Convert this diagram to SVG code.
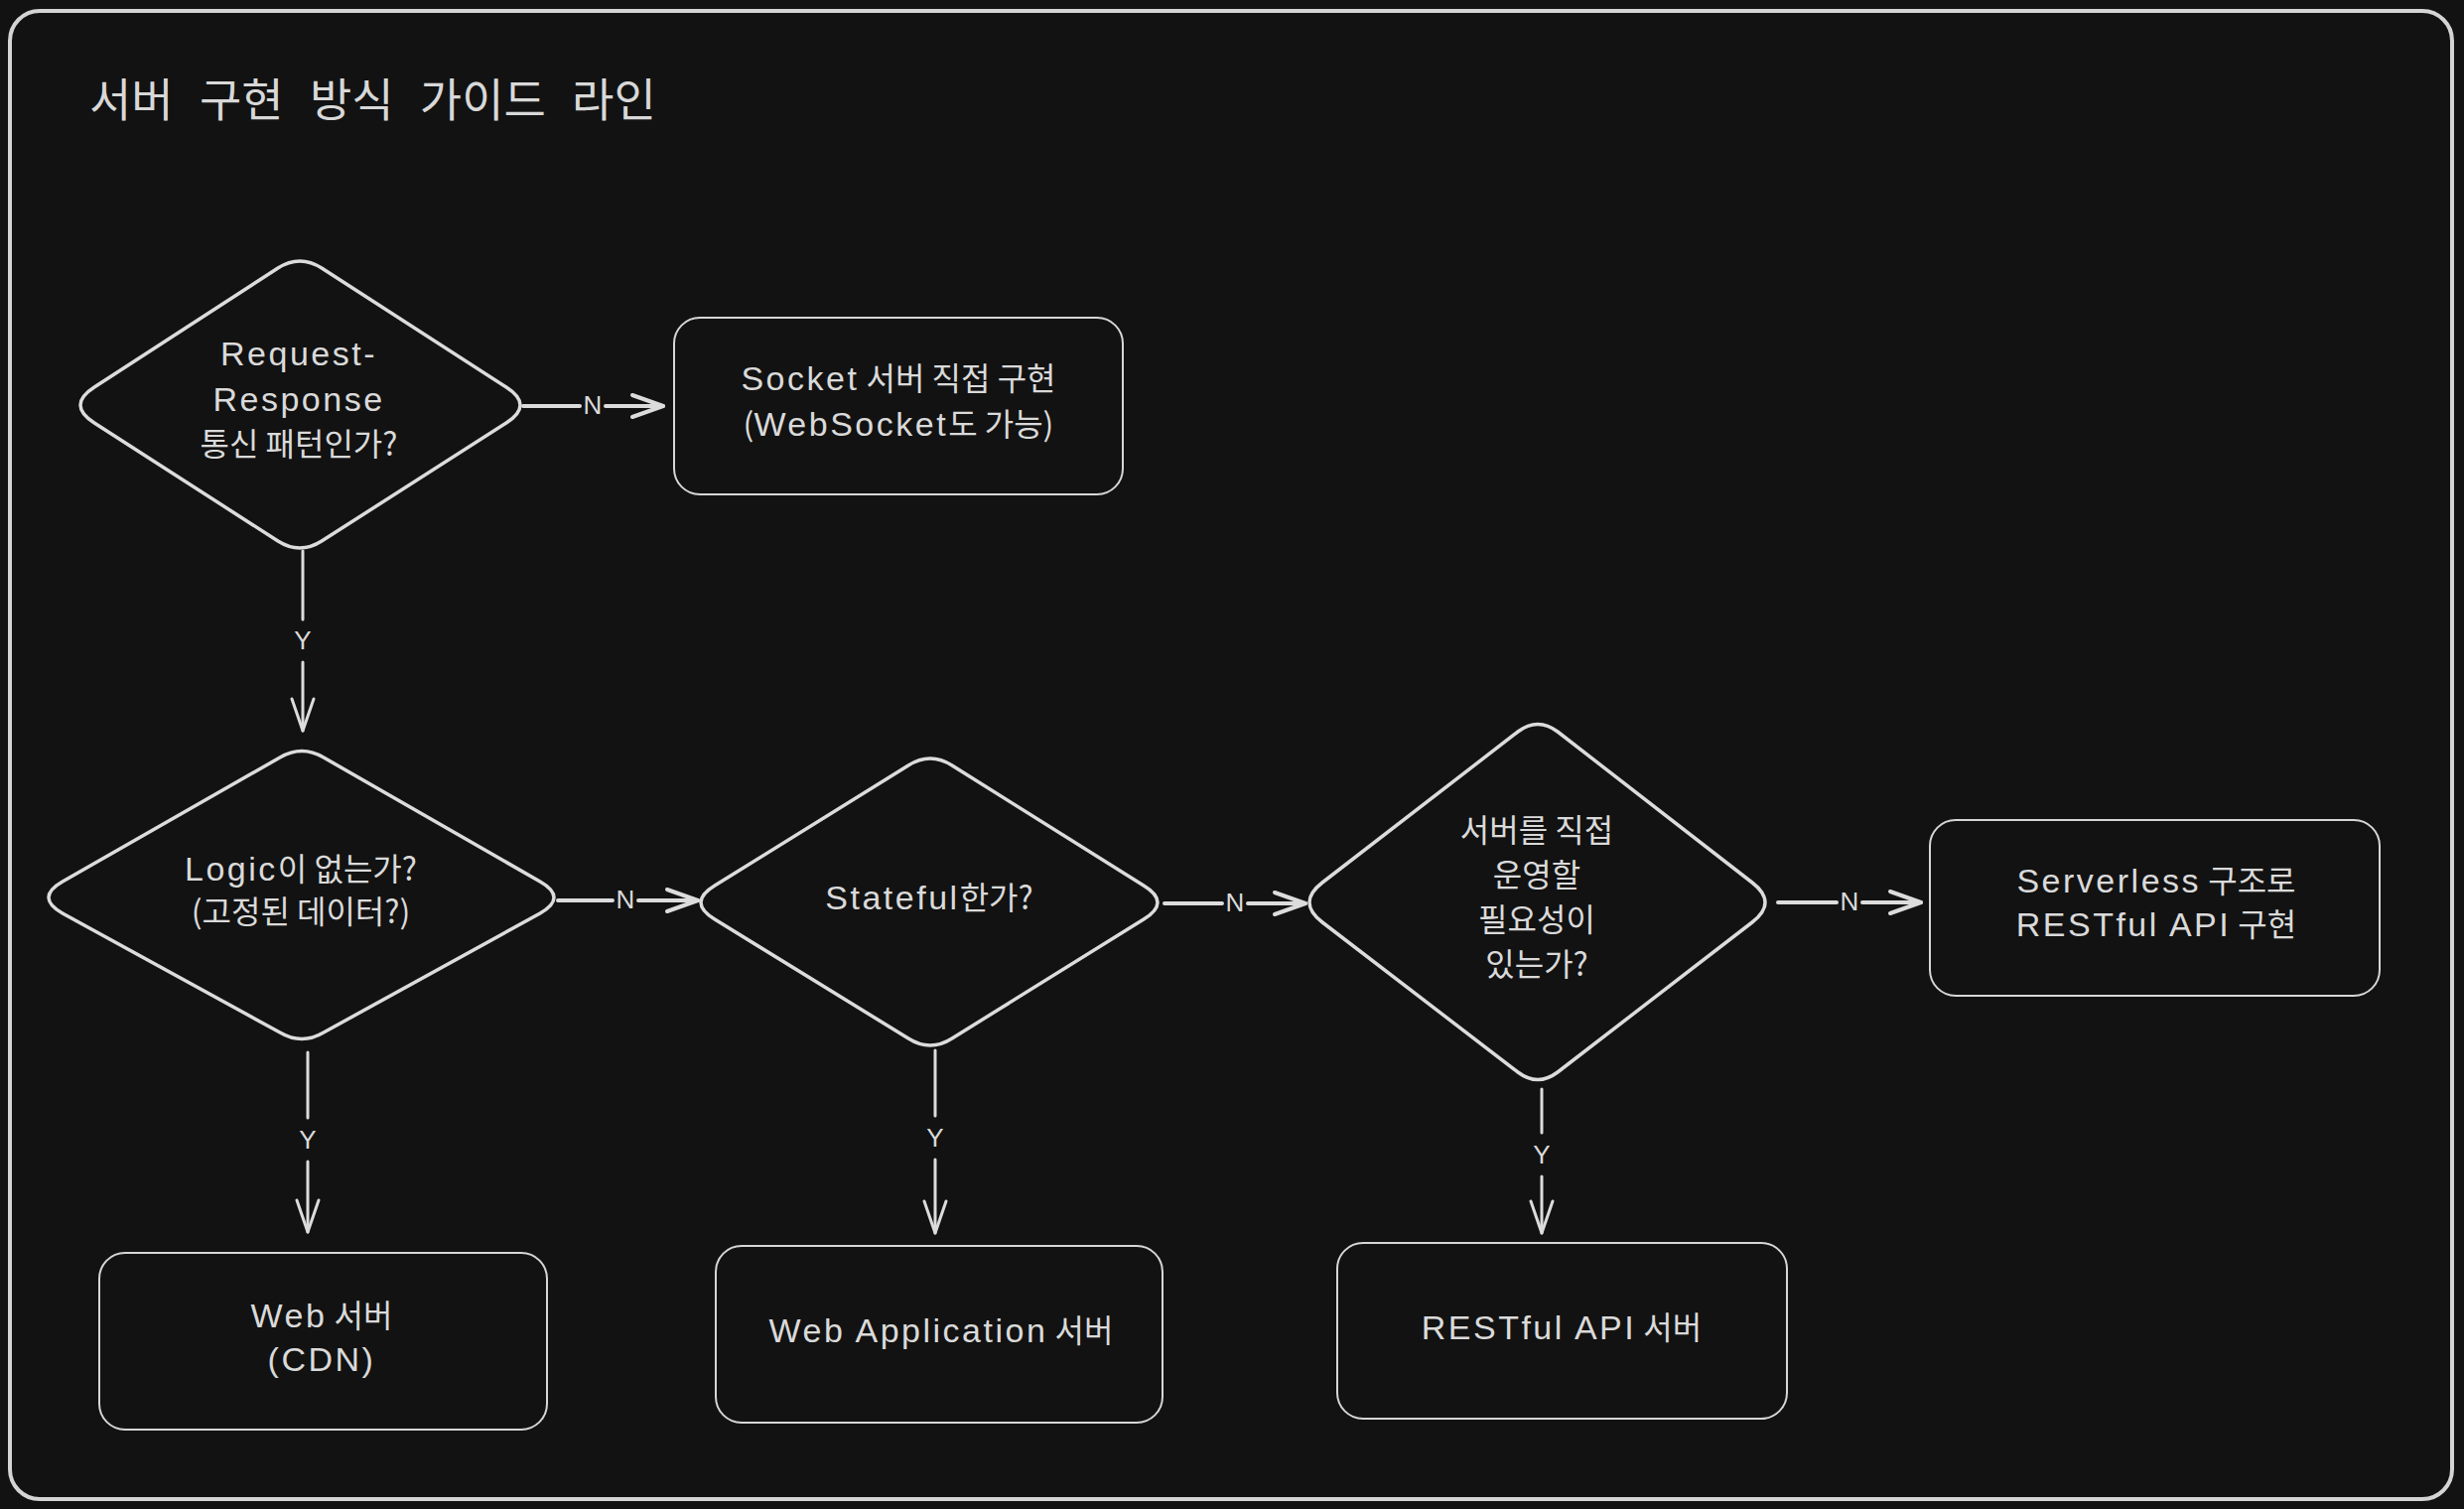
<svg xmlns="http://www.w3.org/2000/svg" width="2482" height="1520" viewBox="0 0 2482 1520">
<defs>
<style>
.bg{fill:#121212}
.frame{fill:none;stroke:#d4d4d4;stroke-width:4}
.box{fill:#121212;stroke:#d6d6d6;stroke-width:2}
.dia{fill:#121212;stroke:#dcdcdc;stroke-width:3.5;stroke-linejoin:round}
.t{font-family:"Noto Sans CJK KR","Noto Sans",sans-serif;font-size:32px;fill:#dadada;text-anchor:middle}
.l{font-family:"Liberation Sans","Noto Sans CJK KR",sans-serif;font-size:34px;letter-spacing:2.5px}
.title{font-family:"Noto Sans CJK KR",sans-serif;font-size:46px;fill:#d8d8d8;word-spacing:16px}
.c{fill:none;stroke:#dcdcdc;stroke-linecap:round}
.h{stroke-width:4}
.v{stroke-width:3}
.lbl{font-family:"Liberation Sans",sans-serif;font-size:26px;fill:#dadada;text-anchor:middle;dominant-baseline:central}
</style>
<marker id="ahH" viewBox="-36 -16 40 32" markerWidth="40" markerHeight="32" refX="0" refY="0" markerUnits="userSpaceOnUse" orient="auto">
<path d="M-31 -11 L0 0 L-31 11" fill="none" stroke="#dcdcdc" stroke-width="4" stroke-linecap="round" stroke-linejoin="round"/>
</marker>
<marker id="ahV" viewBox="-36 -16 40 32" markerWidth="40" markerHeight="32" refX="0" refY="0" markerUnits="userSpaceOnUse" orient="auto">
<path d="M-32 -11 L0 0 L-32 11" fill="none" stroke="#dcdcdc" stroke-width="3" stroke-linecap="round" stroke-linejoin="round"/>
</marker>
</defs>
<rect class="bg" x="0" y="0" width="2482" height="1520"/>
<rect class="frame" x="10" y="11" width="2460" height="1499" rx="30"/>
<text class="title" x="90" y="117">서버 구현 방식 가이드 라인</text>

<g id="connectors">
<g id="a1"><path class="c h" d="M527 409 H584 M610 409 H668" marker-end="url(#ahH)"/><text class="lbl" x="597" y="408">N</text></g>
<g id="a2"><path class="c v" d="M305 555 V624 M305 667 V736" marker-end="url(#ahV)"/><text class="lbl" x="305" y="645">Y</text></g>
<g id="a3"><path class="c h" d="M562 907 H617 M643 907 H703" marker-end="url(#ahH)"/><text class="lbl" x="630" y="906">N</text></g>
<g id="a4"><path class="c v" d="M310 1060 V1126 M310 1170 V1241" marker-end="url(#ahV)"/><text class="lbl" x="310" y="1148">Y</text></g>
<g id="a5"><path class="c h" d="M1173 910 H1231 M1257 910 H1315" marker-end="url(#ahH)"/><text class="lbl" x="1244" y="909">N</text></g>
<g id="a6"><path class="c v" d="M942 1058 V1124 M942 1168 V1242" marker-end="url(#ahV)"/><text class="lbl" x="942" y="1146">Y</text></g>
<g id="a7"><path class="c h" d="M1791 909 H1850 M1876 909 H1935" marker-end="url(#ahH)"/><text class="lbl" x="1863" y="908">N</text></g>
<g id="a8"><path class="c v" d="M1553 1097 V1141 M1553 1185 V1242" marker-end="url(#ahV)"/><text class="lbl" x="1553" y="1163">Y</text></g>
</g>

<g id="d1">
<path class="dia" d="M95 390 L280 270 Q302 256 324 270 L510 390 Q538 408 510 426 L324 545 Q302 559 280 545 L95 426 Q67 408 95 390 Z"/>
<text class="t"><tspan x="301" y="368" class="l">Request-</tspan><tspan x="301" y="414" class="l">Response</tspan><tspan x="301" y="459">통신 패턴인가?</tspan></text>
</g>
<g id="socket">
<rect class="box" x="679" y="320" width="452" height="178" rx="26"/>
<text class="t"><tspan x="905" y="393"><tspan class="l">Socket</tspan> 서버 직접 구현</tspan><tspan x="905" y="439">(<tspan class="l">WebSocket</tspan>도 가능)</tspan></text>
</g>
<g id="d2">
<path class="dia" d="M63 888 L282 763 Q304 750 326 763 L544 888 Q572 904 544 920 L326 1040 Q304 1053 282 1040 L63 920 Q35 904 63 888 Z"/>
<text class="t"><tspan x="303" y="887"><tspan class="l">Logic</tspan>이 없는가?</tspan><tspan x="303" y="930">(고정된 데이터?)</tspan></text>
</g>
<g id="d3">
<path class="dia" d="M720 892 L915 771 Q937 757 959 771 L1152 892 Q1180 909 1152 926 L959 1046 Q937 1060 915 1046 L720 926 Q692 909 720 892 Z"/>
<text class="t" x="936" y="916"><tspan class="l">Stateful</tspan>한가?</text>
</g>
<g id="d4">
<path class="dia" d="M1332 889 L1529 737 Q1549 722 1569 737 L1765 889 Q1791 909 1765 929 L1569 1080 Q1549 1095 1529 1080 L1332 929 Q1306 909 1332 889 Z"/>
<text class="t"><tspan x="1548" y="848">서버를 직접</tspan><tspan x="1548" y="893">운영할</tspan><tspan x="1548" y="938">필요성이</tspan><tspan x="1548" y="983">있는가?</tspan></text>
</g>
<g id="serverless">
<rect class="box" x="1944" y="826" width="453" height="177" rx="26"/>
<text class="t"><tspan x="2172" y="899"><tspan class="l">Serverless</tspan> 구조로</tspan><tspan x="2172" y="943"><tspan class="l">RESTful API</tspan> 구현</tspan></text>
</g>
<g id="web">
<rect class="box" x="100" y="1262" width="451" height="178" rx="26"/>
<text class="t"><tspan x="324" y="1337"><tspan class="l">Web</tspan> 서버</tspan><tspan x="324" y="1381" class="l">(CDN)</tspan></text>
</g>
<g id="webapp">
<rect class="box" x="721" y="1255" width="450" height="178" rx="26"/>
<text class="t" x="948" y="1352"><tspan class="l">Web Application</tspan> 서버</text>
</g>
<g id="restful">
<rect class="box" x="1347" y="1252" width="453" height="177" rx="26"/>
<text class="t" x="1573" y="1349"><tspan class="l">RESTful API</tspan> 서버</text>
</g>
</svg>
